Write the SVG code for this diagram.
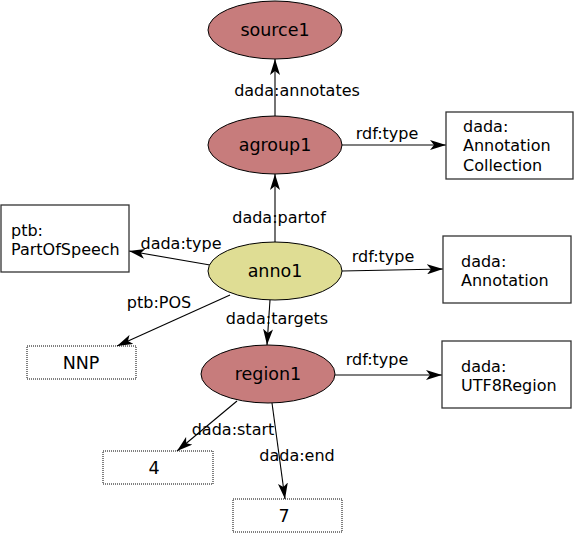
<svg xmlns="http://www.w3.org/2000/svg" width="575" height="533" viewBox="0 0 575 533">
<style>
.n{stroke:#000;stroke-width:1}
.r{fill:#c77c7c}
.y{fill:#dfdd94}
.b{fill:#fff;stroke:#333;stroke-width:1.3}
.l{fill:#fff;stroke:#000;stroke-width:1;stroke-dasharray:1 1}
.t{font-family:"DejaVu Sans",sans-serif;font-size:17.5px;text-anchor:middle;dominant-baseline:central;fill:#000}
.bt{font-family:"DejaVu Sans",sans-serif;font-size:16px;fill:#000;dominant-baseline:central}
.e{stroke:#000;stroke-width:1.1;fill:none;marker-end:url(#a)}
.el{font-family:"DejaVu Sans",sans-serif;font-size:16px;fill:#000;dominant-baseline:central;text-anchor:middle}
</style>
<defs>
<marker id="a" markerWidth="16" markerHeight="10" refX="16" refY="5" orient="auto" markerUnits="userSpaceOnUse">
<path d="M0,0 L16,5 L0,10 L4,5 z" fill="#000"/>
</marker>
</defs>
<g id="connectors">
<line class="e" x1="275" y1="116" x2="275" y2="59"/>
<text class="el" x="297" y="90">dada:annotates</text>
<line class="e" x1="342" y1="145" x2="446" y2="145"/>
<text class="el" x="387" y="133">rdf:type</text>
<line class="e" x1="275" y1="242" x2="275" y2="174"/>
<text class="el" x="279" y="217">dada:partof</text>
<line class="e" x1="210" y1="265" x2="129" y2="251"/>
<text class="el" x="181" y="243">dada:type</text>
<line class="e" x1="342" y1="271" x2="443" y2="269"/>
<text class="el" x="383" y="256">rdf:type</text>
<line class="e" x1="230" y1="295" x2="117" y2="346"/>
<text class="el" x="159" y="302">ptb:POS</text>
<line class="e" x1="270" y1="300" x2="267" y2="345"/>
<text class="el" x="277" y="318">dada:targets</text>
<line class="e" x1="335" y1="375" x2="442" y2="375"/>
<text class="el" x="377" y="359">rdf:type</text>
<line class="e" x1="237" y1="401" x2="177" y2="451"/>
<text class="el" x="233" y="429">dada:start</text>
<line class="e" x1="272" y1="403" x2="285" y2="499"/>
<text class="el" x="297" y="455">dada:end</text>
</g>
<g id="source1"><ellipse class="n r" cx="275" cy="30" rx="67" ry="29"/><text class="t" x="275" y="30">source1</text></g>
<g id="agroup1"><ellipse class="n r" cx="275" cy="145" rx="67" ry="29"/><text class="t" x="275" y="145">agroup1</text></g>
<g id="anno1"><ellipse class="n y" cx="275" cy="271" rx="67" ry="29"/><text class="t" x="275" y="271">anno1</text></g>
<g id="region1"><ellipse class="n r" cx="268" cy="374" rx="67" ry="29"/><text class="t" x="268" y="374">region1</text></g>
<g id="AnnotationCollection"><rect class="b" x="446" y="112" width="127" height="67"/><text class="bt" x="463" y="126">dada:</text><text class="bt" x="463" y="145">Annotation</text><text class="bt" x="463" y="165">Collection</text></g>
<g id="PartOfSpeech"><rect class="b" x="1" y="205" width="128" height="67"/><text class="bt" x="11" y="230">ptb:</text><text class="bt" x="11" y="249">PartOfSpeech</text></g>
<g id="Annotation"><rect class="b" x="443" y="236" width="128" height="67"/><text class="bt" x="461" y="261">dada:</text><text class="bt" x="461" y="280">Annotation</text></g>
<g id="UTF8Region"><rect class="b" x="442" y="341" width="129" height="67"/><text class="bt" x="461" y="366">dada:</text><text class="bt" x="461" y="385">UTF8Region</text></g>
<g id="NNP"><rect class="l" x="27" y="346" width="109" height="33"/><text class="t" x="81" y="363">NNP</text></g>
<g id="lit4"><rect class="l" x="103" y="451" width="110" height="33"/><text class="t" x="154" y="468">4</text></g>
<g id="lit7"><rect class="l" x="233" y="499" width="109" height="33"/><text class="t" x="284" y="516">7</text></g>
</svg>
